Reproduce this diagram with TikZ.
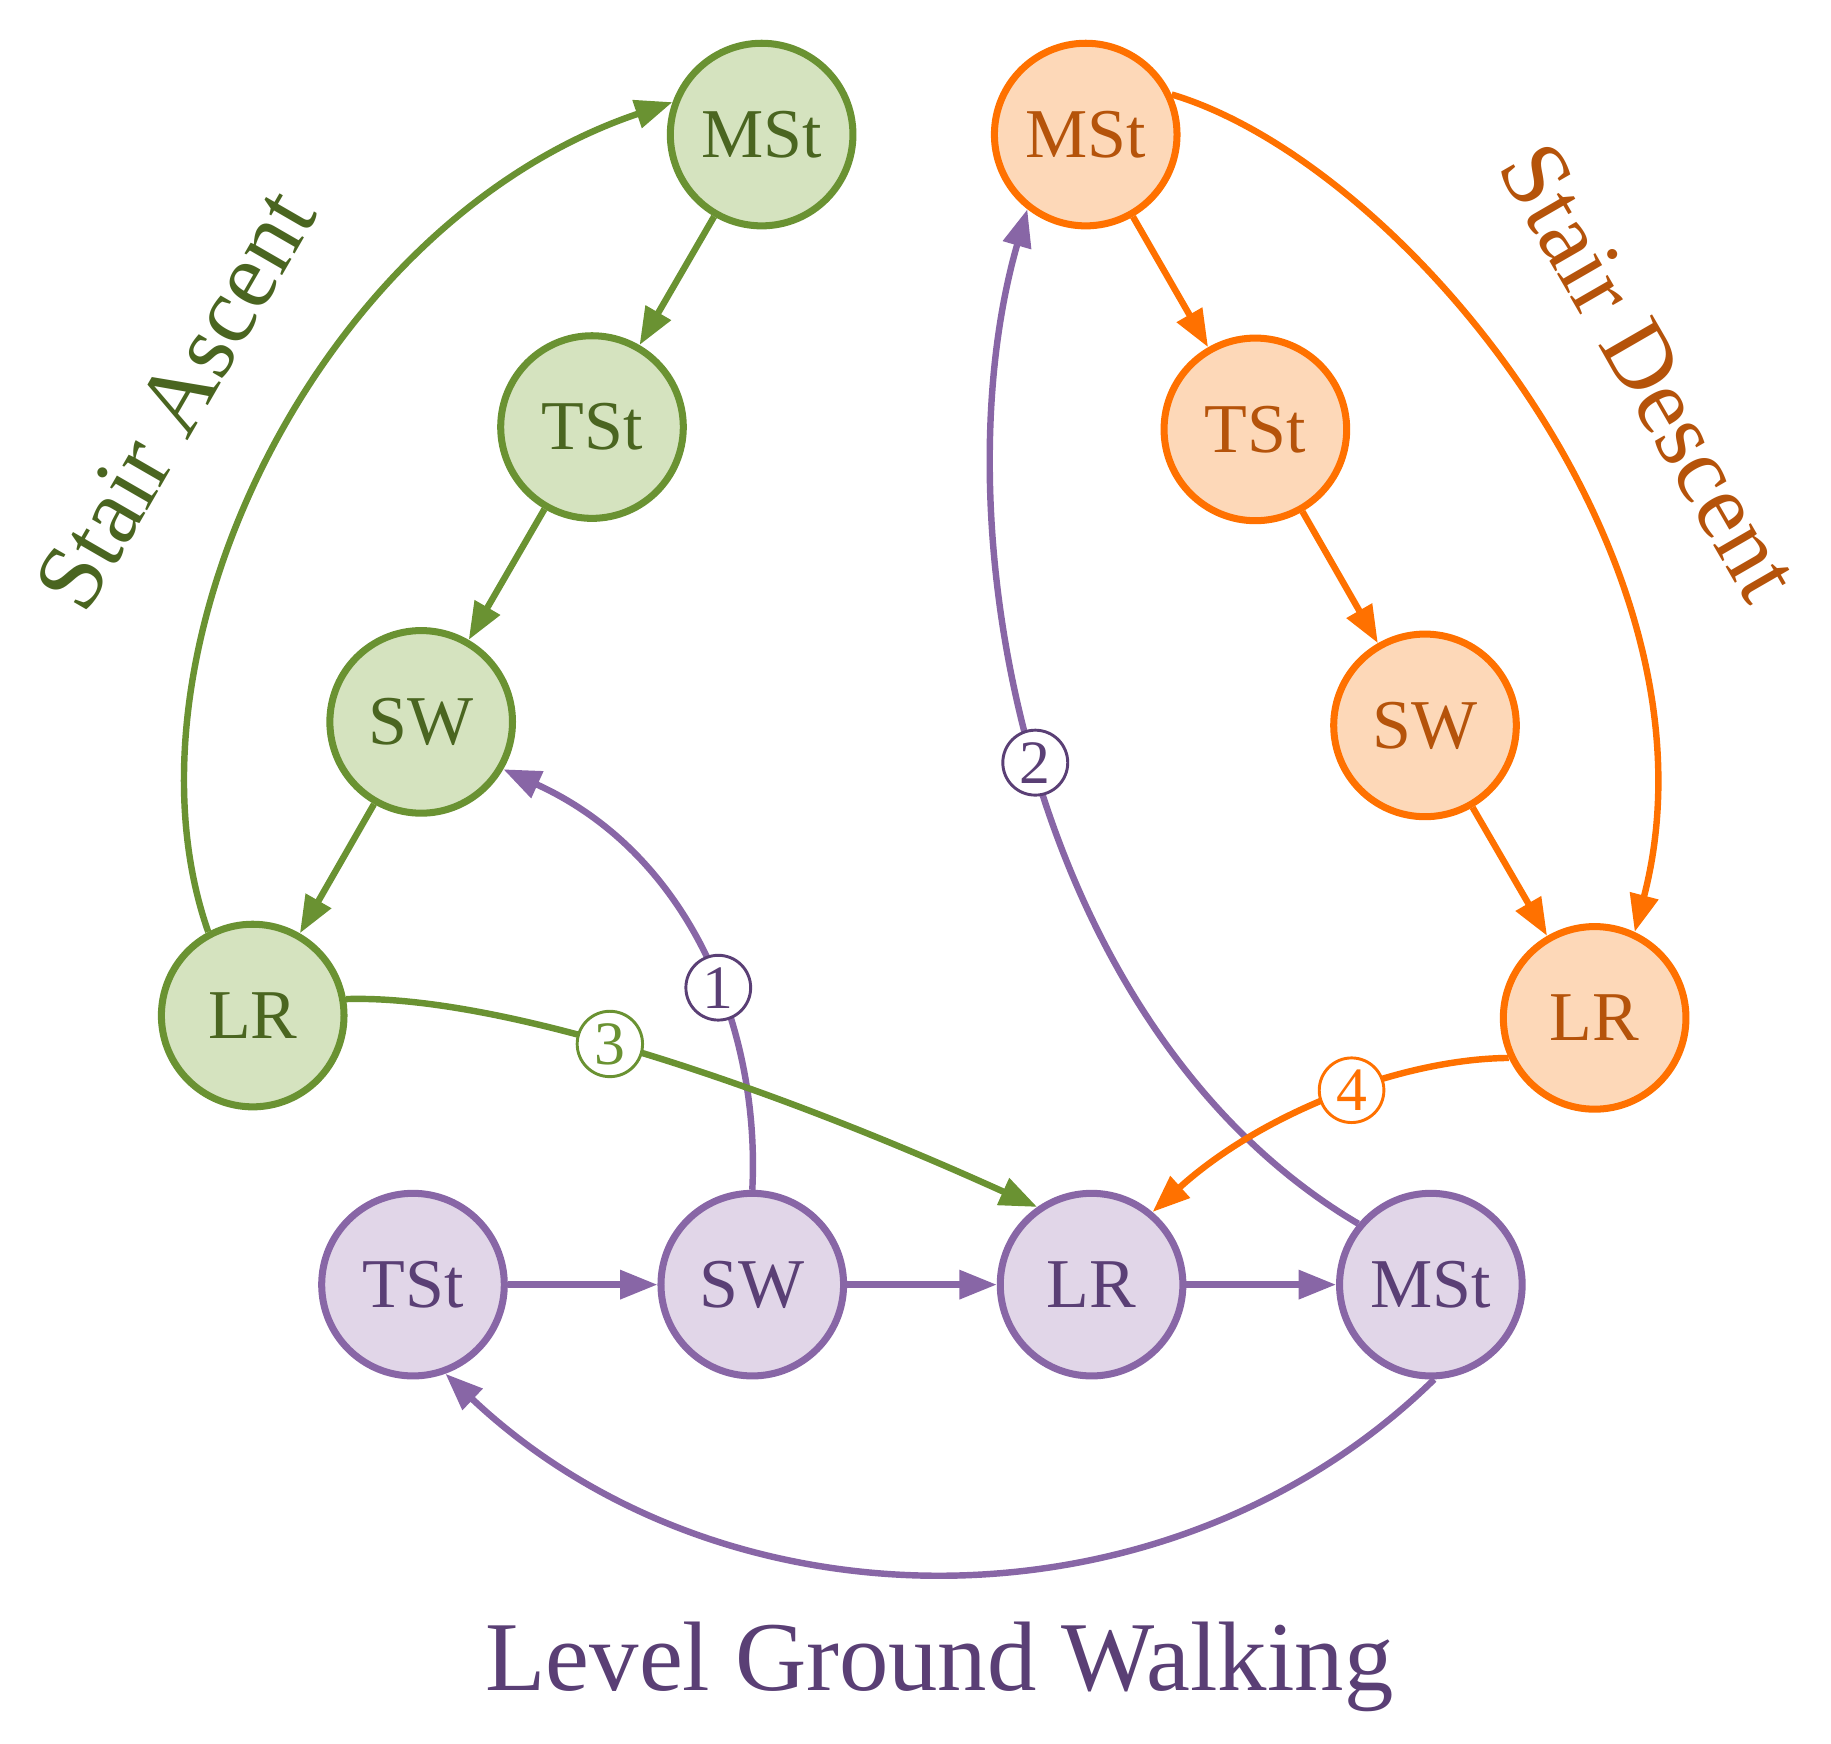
\documentclass[tikz,border=0pt]{standalone}
\usetikzlibrary{arrows.meta}
\usepackage{fontspec}
\setmainfont{Liberation Serif}
\definecolor{gS}{HTML}{6A9232}\definecolor{gF}{HTML}{D5E3BF}\definecolor{gT}{HTML}{4A6520}
\definecolor{oS}{HTML}{FF7100}\definecolor{oF}{HTML}{FDD8B8}\definecolor{oT}{HTML}{B5530A}
\definecolor{pS}{HTML}{8866A6}\definecolor{pF}{HTML}{E1D6E8}\definecolor{pT}{HTML}{5A3F75}
\begin{document}
\begin{tikzpicture}[x=0.01cm,y=-0.01cm,
 st/.style={circle,line width=0.06cm,minimum size=1.56cm,inner sep=0pt,font=\fontsize{17}{20}\selectfont},
 G/.style={st,draw=gS,fill=gF,text=gT},
 O/.style={st,draw=oS,fill=oF,text=oT},
 P/.style={st,draw=pS,fill=pF,text=pT},
 e/.style={line width=0.055cm,-{Triangle[length=0.32cm,width=0.24cm]}},
 num/.style={circle,draw,fill=white,line width=0.025cm,inner sep=1.2pt,font=\fontsize{15}{16}\selectfont}]
\useasboundingbox (0,0) rectangle (1565,1490);
\node[G] (mstA) at (651,115) {MSt};
\node[G] (tstA) at (506,365) {TSt};
\node[G] (swA) at (360,617) {SW};
\node[G] (lrA) at (216,868) {LR};
\node[O] (mstB) at (928,115) {MSt};
\node[O] (tstB) at (1073,367) {TSt};
\node[O] (swB) at (1218,620) {SW};
\node[O] (lrB) at (1363,870) {LR};
\node[P] (tstL) at (353,1098) {TSt};
\node[P] (swL) at (643,1098) {SW};
\node[P] (lrL) at (933,1098) {LR};
\node[P] (mstL) at (1223,1098) {MSt};
\node[text=gT,rotate=60,font=\fontsize{23}{26}\selectfont] (la) at (150,342) {Stair Ascent};
\node[text=oT,rotate=-60,font=\fontsize{23}{26}\selectfont] (lb) at (1410,318) {Stair Descent};
\node[text=pT,font=\fontsize{24}{28}\selectfont] (ll) at (803,1425) {Level Ground Walking};
\draw[e,gS] (mstA) -- (tstA);
\draw[e,gS] (tstA) -- (swA);
\draw[e,gS] (swA) -- (lrA);
\draw[e,oS] (mstB) -- (tstB);
\draw[e,oS] (tstB) -- (swB);
\draw[e,oS] (swB) -- (lrB);
\draw[e,pS] (tstL) -- (swL);
\draw[e,pS] (swL) -- (lrL);
\draw[e,pS] (lrL) -- (mstL);
\draw[e,gS] (lrA.118) .. controls (95,560) and (270,190) .. (mstA.160);
\draw[e,oS] (mstB.25) .. controls (1200,140) and (1480,480) .. (lrB.65);
\draw[e,pS] (mstL.272) .. controls (1000,1400) and (620,1400) .. (tstL.290);
\draw[e,pS] (swL.north) .. controls (650,880) and (590,730) .. (swA.-30)
  node[num,draw=pT,text=pT,pos=0.42] {1};
\draw[e,pS] (mstL.140) .. controls (880,880) and (800,450) .. (mstB.232)
  node[num,draw=pT,text=pT,pos=0.5] {2};
\draw[e,gS] (lrA.10) .. controls (420,850) and (640,920) .. (lrL.125)
  node[num,draw=gS,text=gS,pos=0.46] {3};
\draw[e,oS] (lrB.205) .. controls (1200,905) and (1080,950) .. (lrL.50)
  node[num,draw=oS,text=oS,pos=0.45] {4};
\end{tikzpicture}
\end{document}
